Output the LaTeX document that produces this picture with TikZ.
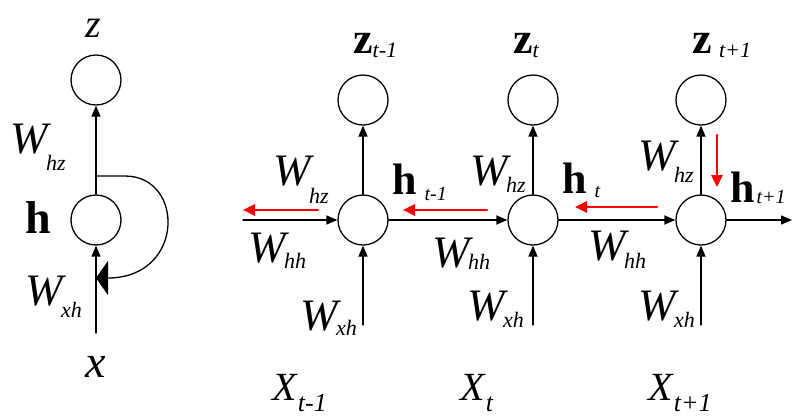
\documentclass[tikz,border=0pt]{standalone}
\usepackage{fontspec}
\setmainfont{Liberation Serif}
\usetikzlibrary{arrows.meta}
% lowered italic subscript: drop, size, text
\newcommand{\sbs}[3]{\raisebox{-#1}{\fontsize{#2}{#2}\selectfont\textit{#3}}}
\newcommand{\wsub}[2]{\textit{W}\kern-5pt\sbs{#1}{22pt}{#2}}
\begin{document}
\begin{tikzpicture}[x=1pt,y=-1pt,line join=round,line cap=round,
		>={Triangle[length=11pt,width=9pt]},
		unit/.style={circle,draw,line width=1.3pt,minimum size=50pt,inner sep=0pt},
		arr/.style={->,line width=1.3pt},
		back/.style={-{Triangle[length=12pt,width=11pt]},red,line width=2.6pt},
		lab/.style={inner sep=0pt,anchor=base west,font=\fontsize{45}{45}\selectfont}]
			\useasboundingbox (0,0) rectangle (793,416);
			% folded network
			\node[unit] (zl) at (96,80) {};
			\node[unit] (hl) at (96,220) {};
			\coordinate (xl) at (96,333);
			\coordinate (fb) at (96,176);
			\coordinate (fbend) at (96,278);
			\draw[arr] (hl) -- (zl);
			\draw[arr] (xl) -- (hl);
			\draw[line width=1.3pt,-{Triangle[length=12pt,width=34pt]}] (fb) -- ++(29,0) .. controls +(60,0) and (185,278) .. (fbend);
			\node[lab,font=\fontsize{40}{40}\selectfont] (lz) at (85,37) {\textit{z}};
			\node[lab] (lwhz) at (10,153) {\wsub{17pt}{hz}};
			\node[lab,font=\fontsize{46}{46}\selectfont] (lh) at (25,233) {\textbf{h}};
			\node[lab] (lwxh) at (25,305) {\wsub{12pt}{xh}};
			\node[lab,font=\fontsize{46}{46}\selectfont] (lx) at (85,377) {\textit{x}};
			% unfolded network
			\foreach \i/\x in {1/363,2/533,3/701}{
				\node[unit] (h\i) at (\x,220) {};
				\node[unit] (z\i) at (\x,100) {};
				\coordinate (x\i) at (\x,325);
				\draw[arr] (x\i) -- (h\i);
				\draw[arr] (h\i) -- (z\i);
			}
			\coordinate (hin) at (243,220);
			\coordinate (hout) at (792,220);
			\draw[arr] (hin) -- (h1);
			\draw[arr] (h1) -- (h2);
			\draw[arr] (h2) -- (h3);
			\draw[arr] (h3) -- (hout);
			% backward steps
			\coordinate (ra1) at (318,210); \coordinate (rb1) at (243,210);
			\coordinate (ra2) at (487,210); \coordinate (rb2) at (403,210);
			\coordinate (ra3) at (657,207); \coordinate (rb3) at (575,207);
			\coordinate (ra4) at (717,135); \coordinate (rb4) at (717,187);
			\foreach \i in {1,...,4}{\draw[back] (ra\i) -- (rb\i);}
			% outputs
			\node[lab,font=\fontsize{44}{44}\selectfont] (lz1) at (353,53) {\textbf{z}\sbs{4pt}{22pt}{t-1}};
			\node[lab,font=\fontsize{44}{44}\selectfont] (lz2) at (513,53) {\textbf{z}\sbs{4pt}{22pt}{t}};
			\node[lab,font=\fontsize{44}{44}\selectfont] (lz3) at (692,53) {\textbf{z}\,\sbs{4pt}{22pt}{t+1}};
			% hidden states
			\node[lab,font=\fontsize{44}{44}\selectfont] (lh1) at (392,194) {\textbf{h}\hspace{8pt}\sbs{6pt}{20pt}{t-1}};
			\node[lab,font=\fontsize{44}{44}\selectfont] (lh2) at (562,193) {\textbf{h}\hspace{8pt}\sbs{4pt}{20pt}{t}};
			\node[lab,font=\fontsize{44}{44}\selectfont] (lh3) at (730,202) {\textbf{h}\hspace{2pt}\sbs{1pt}{20pt}{t+1}};
			% weights
			\node[lab] (whz1) at (273,185) {\wsub{18pt}{hz}};
			\node[lab] (whh1) at (248,262) {\wsub{6pt}{hh}};
			\node[lab] (wxh1) at (300,330) {\wsub{5pt}{xh}};
			\node[lab] (whz2) at (470,185) {\wsub{7pt}{hz}};
			\node[lab] (whh2) at (432,267) {\wsub{2pt}{hh}};
			\node[lab] (wxh2) at (467,320) {\wsub{7pt}{xh}};
			\node[lab] (whz3) at (638,170) {\wsub{12pt}{hz}};
			\node[lab] (whh3) at (588,260) {\wsub{8pt}{hh}};
			\node[lab] (wxh3) at (638,320) {\wsub{7pt}{xh}};
			% inputs
			\node[lab,font=\fontsize{40}{40}\selectfont] (lx1) at (272,400) {\textit{X}\sbs{11pt}{26pt}{t-1}};
			\node[lab,font=\fontsize{40}{40}\selectfont] (lx2) at (460,400) {\textit{X}\sbs{11pt}{26pt}{t}};
			\node[lab,font=\fontsize{40}{40}\selectfont] (lx3) at (648,400) {\textit{X}\sbs{11pt}{26pt}{t+1}};
		\end{tikzpicture}
\end{document}
